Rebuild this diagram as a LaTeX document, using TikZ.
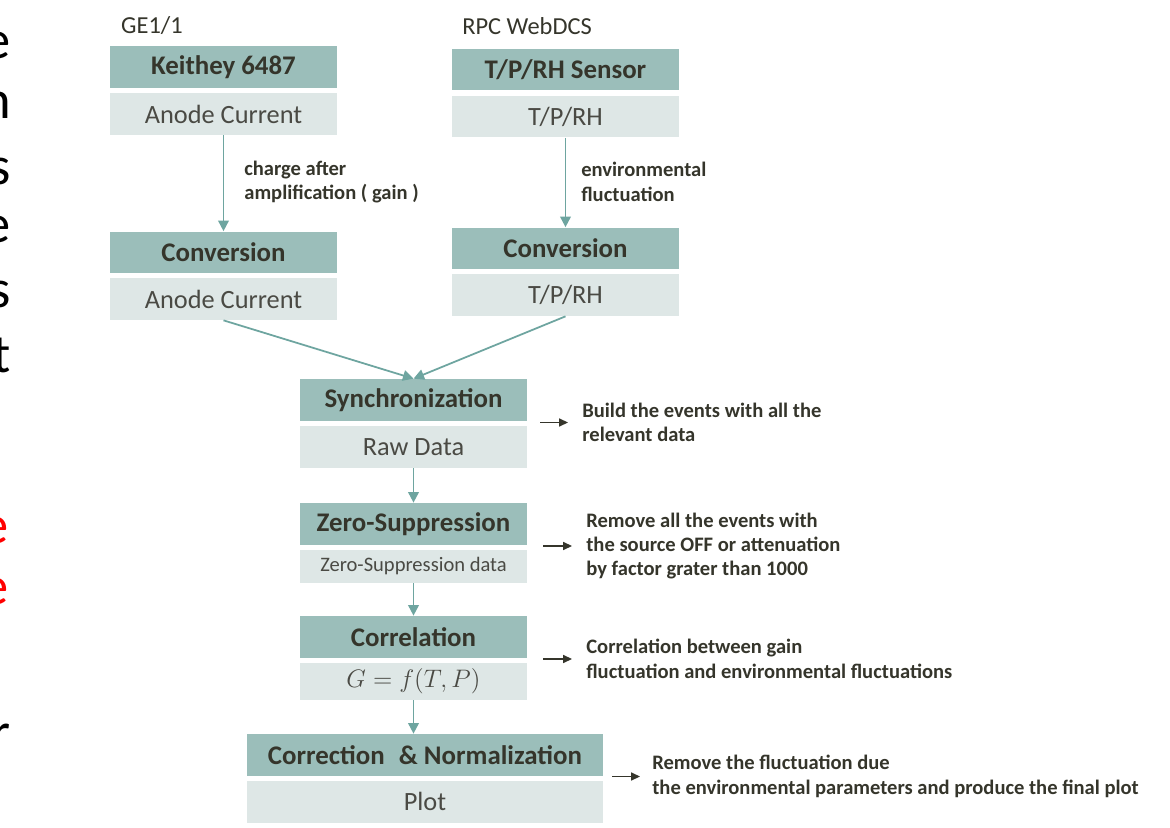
\documentclass[tikz,border=0pt]{standalone}
\usepackage{fontspec}
\setmainfont{Carlito}
\usetikzlibrary{arrows.meta}
\usetikzlibrary{positioning}
\definecolor{hdfill}{HTML}{9BBEBA}
\definecolor{bdfill}{HTML}{DEE7E6}
\definecolor{flowcol}{HTML}{6EA5A0}
\definecolor{txtdark}{HTML}{35352B}
\definecolor{txtgray}{HTML}{4A4A44}

\begin{document}
\begin{tikzpicture}[x=0.02cm,y=-0.02cm,
        hd/.style={fill=hdfill, minimum width=4.54cm, minimum height=0.84cm, inner sep=0pt,
            text=txtdark, font=\fontsize{15.3}{17}\selectfont\bfseries},
        bd/.style={fill=bdfill, minimum width=4.54cm, minimum height=0.84cm, inner sep=0pt,
            text=txtgray, font=\fontsize{15}{17}\selectfont},
        flow/.style={draw=flowcol, line width=1pt, -{Triangle[width=6pt,length=6pt]}},
        side/.style={draw=txtdark, line width=0.8pt, -{Triangle[width=4.5pt,length=5pt]}},
        note/.style={anchor=west, align=left, inner sep=0pt, text=txtdark,
            font=\fontsize{11.7}{13.9}\selectfont\bfseries},
        title/.style={inner sep=0pt, text=txtdark, font=\fontsize{13.9}{15}\selectfont},
        slide/.style={anchor=east, inner sep=0pt, font=\fontsize{31}{34}\selectfont}]
                \useasboundingbox (0,0) rectangle (1170,828);
                \fill[white] (0,0) rectangle (1170,828);

                \begin{scope}
                    \clip (0,0) rectangle (30,828);
                    \foreach \ch/\yy in {e/45,n/105,s/171,e/229,s/294,t/355,r/737}
                        \node[slide] (ltr-\yy) at (11,\yy) {\ch};
                    \foreach \yy in {530,591}
                        \node[slide, text=red] (ltr-\yy) at (9,\yy) {e};
                \end{scope}

                \node[title] (ge) at (152,26) {GE1/1};
                \node[title] (rpc) at (527,26) {RPC WebDCS};

                \node[hd] (keihd) at (223.5,67) {Keithey 6487};
                \node[bd] (keibd) at (223.5,114) {Anode Current};
                \node[hd] (lcvhd) at (223.5,252.5) {Conversion};
                \node[bd] (lcvbd) at (223.5,299) {Anode Current};

                \node[hd] (senhd) at (565.5,69.5) {T/P/RH Sensor};
                \node[bd] (senbd) at (565.5,116.5) {T/P/RH};
                \node[hd] (rcvhd) at (565.5,248.5) {Conversion};
                \node[bd] (rcvbd) at (565.5,295) {T/P/RH};

                \node[hd] (synhd) at (413.5,400) {Synchronization};
                \node[bd] (synbd) at (413.5,447) {Raw Data};
                \node[hd] (zerhd) at (413.5,524) {Zero-Suppression};
                \node[bd, minimum height=0.66cm, font=\fontsize{11.7}{13}\selectfont] (zerbd) at (413.5,566.5) {Zero-Suppression data};
                \node[hd] (corhd) at (413.5,637) {Correlation};
                \node[bd, minimum height=0.74cm] (corbd) at (413.5,681.5) {$G=f(T,P)$};
                \node[hd, minimum width=7.12cm] (nrmhd) at (425,755) {Correction\hspace{0.3em} \& Normalization};
                \node[bd, minimum width=7.12cm] (nrmbd) at (425,801.5) {Plot};

                \node[note] (gain) at (244,182) {charge after\\amplification ( gain )};
                \node[note] (envf) at (581,182) {environmental\\fluctuation};

                \node[note] (n1) at (582,422.5) {Build the events with all the\\relevant data};
                \node[note] (n2) at (586,546) {Remove all the events with\\the source OFF or attenuation\\by factor grater than 1000};
                \node[note] (n3) at (586,659) {Correlation between gain\\fluctuation and environmental fluctuations};
                \node[note] (n4) at (652,776.5) {Remove the fluctuation due\\the environmental parameters and produce the final plot};

                \coordinate (s1) at (540,422.5);
                \coordinate (s2) at (543,546);
                \coordinate (s3) at (543,659);
                \coordinate (s4) at (612,776.5);

                \draw[flow] (keibd.south) -- (lcvhd.north);
                \draw[flow] (senbd.south) -- (rcvhd.north);
                \draw[flow] (lcvbd.south) -- (synhd.north);
                \draw[flow] (rcvbd.south) -- (synhd.north);
                \draw[flow] (synbd.south) -- (zerhd.north);
                \draw[flow] (zerbd.south) -- (corhd.north);
                \draw[flow] (corbd.south) -- (corbd.south |- nrmhd.north);

                \draw[side, shorten >=0.28cm] (s1) -- (n1.west);
                \draw[side, shorten >=0.28cm] (s2) -- (n2.west);
                \draw[side, shorten >=0.28cm] (s3) -- (n3.west);
                \draw[side, shorten >=0.24cm] (s4) -- (n4.west);
            \end{tikzpicture}
\end{document}
